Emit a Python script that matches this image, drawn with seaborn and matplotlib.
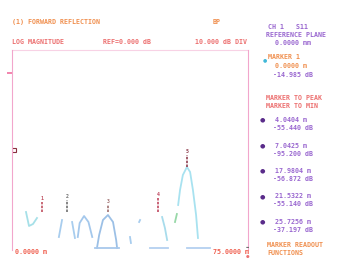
import numpy as np
import pandas as pd
import matplotlib
matplotlib.use("Agg")
import matplotlib.pyplot as plt
import seaborn as sns

# trace pieces (distance in m, return in dB)
seg_names = ["a", "b", "c", "d", "e", "e_base", "f1", "f2", "base2", "g", "h", "i", "base3"]
seg_dist = [
    [4.45, 5.40, 6.67, 7.94],
    [14.9, 15.9],
    [19.1, 20.0],
    [20.9, 21.5, 22.9, 24.3, 25.5],
    [27.0, 27.7, 28.9, 30.5, 32.1, 33.1, 33.4],
    [26.4, 34.0],
    [37.5, 37.8],
    [40.4, 40.7],
    [43.9, 49.6],
    [47.7, 48.6, 49.3],
    [51.8, 52.4],
    [52.8, 53.4, 54.3, 55.6, 56.6, 57.5, 58.5, 59.1],
    [55.6, 62.9],
]
seg_db = [
    [-81, -88, -87, -84],
    [-93.5, -85],
    [-86, -94],
    [-93.5, -86.5, -83, -86, -93.5],
    [-99, -92.5, -85, -82.5, -86, -95, -99],
    [-99, -99],
    [-93.5, -96.5],
    [-86, -85],
    [-99, -99],
    [-83.5, -89, -95],
    [-86, -82],
    [-77.5, -70, -62.5, -58.5, -61, -70, -82.5, -94],
    [-99, -99],
]
seg_colors = ["#a6e0e8", "#a8cdee", "#a8cdee", "#a4c8ec", "#9cc0e6", "#a8c8ec",
              "#a8cdee", "#a8cdee", "#b4d0f0", "#a8dcec", "#98d8a8", "#a8e2f0", "#b4d0f0"]

# marker stubs
mk_dist = [9.5, 17.5, 30.5, 46.4, 55.6]
mk_top = [-76, -75, -77.5, -74, -52.5]
mk_bot = [-81, -81, -81, -81, -58.5]
mk_colors = ["#c05060", "#707070", "#a07070", "#c04860", "#904050"]
mk_labels = ["1", "2", "3", "4", "5"]

# marker readout list
mk_pos_txt = ["4.0404 m", "7.0425 m", "17.9804 m", "21.5322 m", "25.7256 m"]
mk_val_txt = ["-55.440 dB", "-95.200 dB", "-56.872 dB", "-55.140 dB", "-37.197 dB"]

rows = []
for name, xs, ys in zip(seg_names, seg_dist, seg_db):
    for i, (x, y) in enumerate(zip(xs, ys)):
        rows.append({"seg": name, "i": i, "dist": x, "db": y})
df = pd.DataFrame(rows)

W, H = 340, 262
fig = plt.figure(figsize=(W / 100, H / 100), dpi=100)
fig.patch.set_facecolor("white")
ax = fig.add_axes([12 / W, 1 - 250 / H, 236 / W, 200 / H])
ax.set_facecolor("white")

sns.lineplot(data=df, x="dist", y="db", hue="seg", palette=dict(zip(seg_names, seg_colors)),
             sort=False, estimator=None, legend=False, linewidth=1.3, ax=ax)

for x, t, b, c, lab in zip(mk_dist, mk_top, mk_bot, mk_colors, mk_labels):
    ax.plot([x, x], [b, t], color=c, lw=1.2, ls=(0, (1.5, 0.8)))
    ax.text(x, t + 0.5, lab, color=c, fontsize=3.5, ha="center", va="bottom",
            family="DejaVu Sans Mono", fontweight="bold")

ax.plot([0.6], [-50], marker="s", ms=3.5, mfc="none", mec="#8a3040", mew=0.8)
ax.plot([-0.6], [-11.5], marker="_", ms=4, mec="#f070a0", mew=1.2, clip_on=False)

ax.set_xlim(0, 75)
ax.set_ylim(-100, 0)
ax.set_xticks([])
ax.set_yticks([])
ax.set_xlabel("")
ax.set_ylabel("")
for side in ["left", "right", "top"]:
    ax.spines[side].set_color("#f2a6cc")
    ax.spines[side].set_linewidth(0.8)
ax.spines["top"].set_alpha(0.5)
ax.spines["bottom"].set_visible(False)

ORANGE = "#f09050"
RED = "#ec7070"
PURPLE = "#9a68d0"
DPURP = "#5a2c8a"


def txt(x, y, s, color, **kw):
    fig.text(x / W, 1 - y / H, s, color=color, fontsize=4.8, va="center",
             family="DejaVu Sans Mono", fontweight="bold", **kw)


txt(12, 22, "(1) FORWARD REFLECTION", ORANGE)
txt(213, 22, "BP", ORANGE)
txt(12, 42, "LOG MAGNITUDE", RED)
txt(103, 42, "REF=0.000 dB", RED)
txt(195, 42, "10.000 dB DIV", RED)

txt(268, 27, "CH 1   S11", PURPLE)
txt(266, 35, "REFERENCE PLANE", PURPLE)
txt(275, 43, "0.0000 mm", PURPLE)
fig.text(263 / W, 1 - 60 / H, "\u25cf", color="#40b8d8", fontsize=3.5, va="center")
txt(268, 57, "MARKER 1", ORANGE)
txt(275, 66, "0.0000 m", ORANGE)
txt(273, 75, "-14.985 dB", PURPLE)
txt(266, 98, "MARKER TO PEAK", RED)
txt(266, 106, "MARKER TO MIN", RED)

for k, (p, v) in enumerate(zip(mk_pos_txt, mk_val_txt)):
    y0 = 120 + k * 25.5
    fig.text(260 / W, 1 - y0 / H, "\u25cf", color=DPURP, fontsize=4.5, va="center")
    txt(275, y0, p, PURPLE)
    txt(273, y0 + 8, v, PURPLE)

txt(267, 245, "MARKER READOUT", ORANGE)
txt(267, 253, "FUNCTIONS", ORANGE)
fig.text(246 / W, 1 - 247 / H, "\u25ac", color="#707070", fontsize=2.5, va="center")
fig.text(246 / W, 1 - 257 / H, "\u25cf", color=RED, fontsize=3, va="center")

txt(15, 252, "0.0000 m", "#f06050")
txt(213, 252, "75.0000 m", "#f06050")

fig.savefig("out.png", dpi=100, facecolor="white")
